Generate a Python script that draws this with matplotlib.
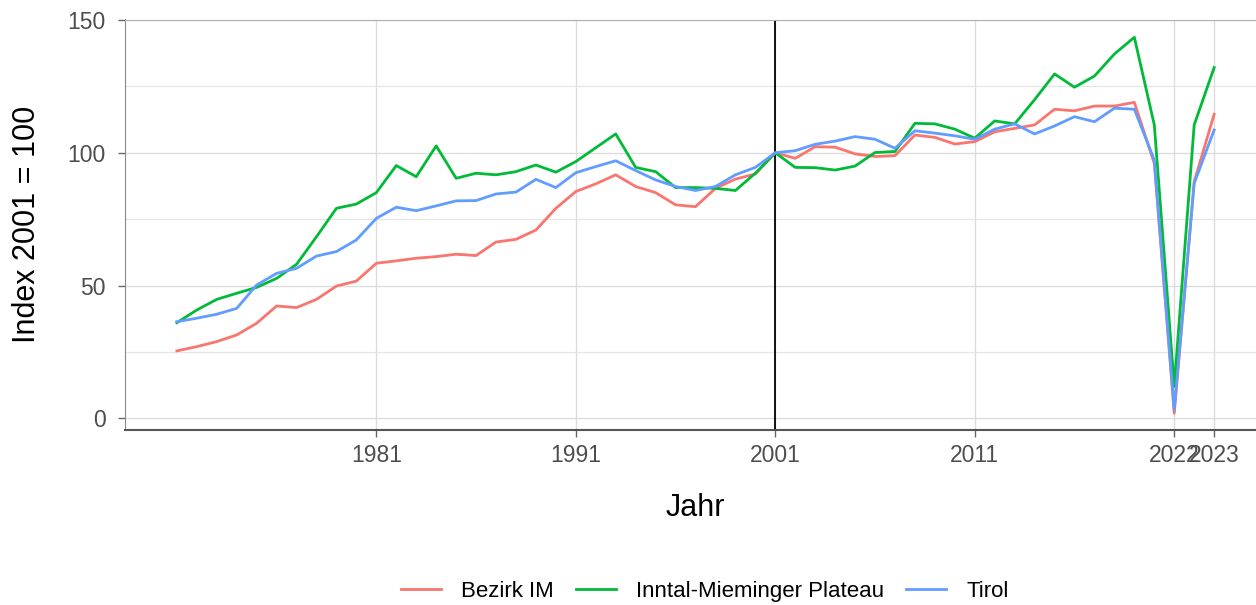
import matplotlib
matplotlib.use("Agg")
import matplotlib.pyplot as plt
import numpy as np

plt.rcParams["font.family"] = ["Liberation Sans", "DejaVu Sans"]

# Index 2001 = 100, yearly values 1971-2023
years = list(range(1971, 2024))

bezirk_im = [
    25.4, 27.0, 28.9, 31.4, 35.8, 42.3, 41.7, 44.8, 49.8, 51.7,
    58.4, 59.3, 60.3, 60.9, 61.8, 61.3, 66.4, 67.4, 70.9, 79.1,
    85.4, 88.3, 91.7, 87.3, 85.0, 80.4, 79.7, 86.6, 90.1, 92.0,
    100.0, 97.9, 102.3, 102.1, 99.6, 98.6, 98.9, 106.7, 105.8, 103.3,
    104.2, 107.9, 109.2, 110.5, 116.4, 115.8, 117.6, 117.6, 119.0, 96.0,
    1.9, 89.1, 114.5,
]
inntal = [
    36.0, 40.8, 44.8, 47.1, 49.3, 52.7, 58.0, 68.4, 79.1, 80.7,
    85.0, 95.2, 91.0, 102.6, 90.4, 92.3, 91.7, 92.9, 95.4, 92.7,
    96.7, 101.9, 107.1, 94.5, 92.9, 86.9, 86.9, 86.6, 85.8, 92.3,
    100.0, 94.5, 94.4, 93.5, 95.0, 100.1, 100.5, 111.1, 110.9, 108.9,
    105.5, 112.0, 110.9, 120.0, 129.7, 124.7, 128.9, 137.2, 143.5, 110.5,
    12.0, 110.5, 132.1,
]
tirol = [
    36.4, 37.7, 39.2, 41.4, 50.2, 54.6, 56.5, 61.1, 62.8, 67.2,
    75.3, 79.5, 78.2, 80.0, 81.9, 82.0, 84.5, 85.2, 90.0, 86.9,
    92.5, 94.8, 97.0, 93.3, 89.8, 87.3, 85.8, 87.3, 91.7, 94.5,
    100.0, 100.8, 103.2, 104.4, 106.1, 105.1, 101.7, 108.3, 107.4, 106.4,
    105.1, 108.9, 110.9, 107.1, 110.1, 113.6, 111.7, 116.8, 116.4, 97.3,
    3.1, 88.5, 108.6,
]

series = [
    ("Bezirk IM", bezirk_im, "#F8766D"),
    ("Inntal-Mieminger Plateau", inntal, "#00BA38"),
    ("Tirol", tirol, "#619CFF"),
]

x_ticks = [1981, 1991, 2001, 2011, 2021, 2023]
x_tick_labels = ["1981", "1991", "2001", "2011", "2022", "2023"]
y_ticks = [0, 50, 100, 150]

fig = plt.figure(figsize=(12.56, 6.05), dpi=100)
ax = fig.add_axes([125 / 1256, 1 - 430 / 605, 1141 / 1256, 410.5 / 605])

ax.set_xlim(1968.4, 2025.6)
ax.set_ylim(-4.4, 150.2)

# grid
ax.set_yticks(y_ticks)
ax.set_yticks([25, 75, 125], minor=True)
ax.set_xticks(x_ticks, labels=x_tick_labels)
ax.grid(which="major", color="#dcdcdc", linewidth=1.0)
ax.grid(which="minor", axis="y", color="#e6e6e6", linewidth=0.9)
ax.set_axisbelow(True)

ax.axvline(2001, color="black", linewidth=1.3, zorder=2)

for name, vals, col in series:
    ax.plot(years, vals, color=col, linewidth=2.0, label=name, zorder=3)

for side in ["top", "right"]:
    ax.spines[side].set_color("#b0b0b0")
ax.spines["left"].set_color("#8a8a8a")
ax.spines["bottom"].set_color("#555555")
ax.spines["bottom"].set_linewidth(1.5)

ax.tick_params(axis="both", which="major", length=5, width=1,
               color="#666666", labelcolor="#4d4d4d", labelsize=16.5)
ax.tick_params(axis="x", which="major", pad=5)
ax.tick_params(axis="y", which="major", pad=9)
ax.tick_params(axis="y", which="minor", length=0)

ax.set_ylabel("Index 2001 = 100", fontsize=22, labelpad=18)
ax.set_xlabel("Jahr", fontsize=22, labelpad=19)

fig.legend(loc="center", bbox_to_anchor=(0.561, 0.022), ncol=3, frameon=False,
           fontsize=16, handlelength=1.8, handletextpad=0.9, columnspacing=1.0)

fig.savefig("out.png", dpi=100)
